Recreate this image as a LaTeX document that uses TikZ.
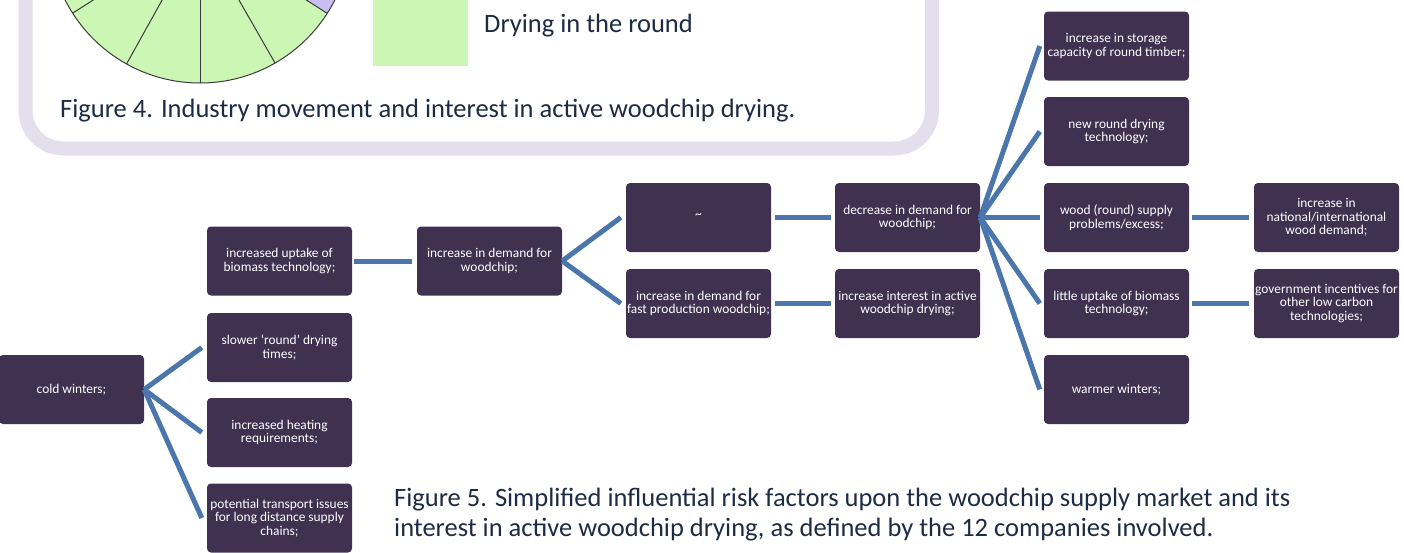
\documentclass[tikz,border=0pt]{standalone}
\usepackage{fontspec}
\setmainfont{Carlito}
\usepackage{xcolor}
\usepackage{tikz}

\definecolor{boxpurple}{HTML}{403151}
\definecolor{linkblue}{HTML}{4A76AC}
\definecolor{framelilac}{HTML}{E4DFEC}
\definecolor{piegreen}{HTML}{CCF6B3}
\definecolor{pielilac}{HTML}{C9BDF2}
\definecolor{pieline}{HTML}{3C3C3C}
\definecolor{capnavy}{HTML}{1D2B45}

\begin{document}
\begin{tikzpicture}[x=1pt, y=-1pt,
    risk/.style={fill=boxpurple, rounded corners=4pt, minimum width=145pt, minimum height=69pt,
      inner xsep=0.5pt, inner ysep=1pt, text=white, align=center, font=\fontsize{13.4}{13.5}\selectfont},
    link/.style={draw=linkblue, line width=5pt},
    caption/.style={text=capnavy, inner sep=0pt, anchor=base west, font=\fontsize{26.5}{30}\selectfont}]
  \useasboundingbox (0,0) rectangle (1404,552);

  \draw[framelilac, line width=14pt, fill=white, rounded corners=38pt] (25.5,-80) rectangle (932,148.5);
  \begin{scope}
    \clip (33,0) rectangle (925,141);
    \fill[piegreen] (200,-68) circle[radius=151];
    \fill[pielilac] (200,-68) -- ++(-20:151) arc[start angle=-20, end angle=32.6, radius=151] -- cycle;
    \foreach \a in {32.6,60.2,90,119.1,147.5}
      \draw[pieline, line width=1pt] (200,-68) -- ++(\a:151);
    \draw[pieline, line width=1pt] (200,-68) circle[radius=151];
  \end{scope}
  \fill[piegreen] (373,0) rectangle (468,66);
  \node[caption] (legend) at (484,32) {Drying in the round};
  \node[caption] (figfour) at (60,117) {Figure 4. Industry movement and interest in active woodchip drying.};

  \node[risk] (cold) at (71.5,389.5) {cold winters;};
  \node[risk] (uptake) at (279.5,261) {increased uptake of\\biomass technology;};
  \node[risk] (slower) at (279.5,347.5) {slower ‘round’ drying\\times;};
  \node[risk] (heating) at (279.5,432.5) {increased heating\\requirements;};
  \node[risk] (transport) at (279.5,518) {potential transport issues\\for long distance supply\\chains;};
  \node[risk] (demand) at (489.5,261) {increase in demand for\\woodchip;};
  \node[risk] (tilde) at (698.5,217.5) {\raisebox{3pt}{\textasciitilde}};
  \node[risk] (fast) at (698.5,303.5) {increase in demand for\\fast production woodchip;};
  \node[risk] (decrease) at (907.5,217.5) {decrease in demand for\\woodchip;};
  \node[risk] (interest) at (907.5,303.5) {increase interest in active\\woodchip drying;};
  \node[risk] (storage) at (1116.5,46) {increase in storage\\capacity of round timber;};
  \node[risk] (newround) at (1116.5,131.5) {new round drying\\technology;};
  \node[risk] (supply) at (1116.5,217.5) {wood (round) supply\\problems/excess;};
  \node[risk] (little) at (1116.5,303.5) {little uptake of biomass\\technology;};
  \node[risk] (warmer) at (1116.5,389.5) {warmer winters;};
  \node[risk] (national) at (1326.5,217.5) {increase in\\national/international\\wood demand;};
  \node[risk] (govt) at (1326.5,303.5) {government incentives for\\other low carbon\\technologies;};

  \foreach \b in {slower,heating,transport}
    \draw[link] (cold.east) -- ([xshift=-5pt]\b.west);
  \foreach \b in {tilde,fast}
    \draw[link] (demand.east) -- ([xshift=-5pt]\b.west);
  \foreach \b in {storage,newround,supply,little,warmer}
    \draw[link] (decrease.east) -- ([xshift=-4pt]\b.west);
  \draw[link] ([xshift=2pt]uptake.east) -- ([xshift=-5pt]demand.west);
  \draw[link] ([xshift=4pt]tilde.east) -- ([xshift=-4pt]decrease.west);
  \draw[link] ([xshift=4pt]fast.east) -- ([xshift=-4pt]interest.west);
  \draw[link] ([xshift=3pt]supply.east) -- ([xshift=-5pt]national.west);
  \draw[link] ([xshift=3pt]little.east) -- ([xshift=-5pt]govt.west);

  \node[caption, align=left] (figfive) at (394,536) {Figure 5. Simplified influential risk factors upon the woodchip supply market and its\\interest in active woodchip drying, as defined by the 12 companies involved.};
\end{tikzpicture}
\end{document}
